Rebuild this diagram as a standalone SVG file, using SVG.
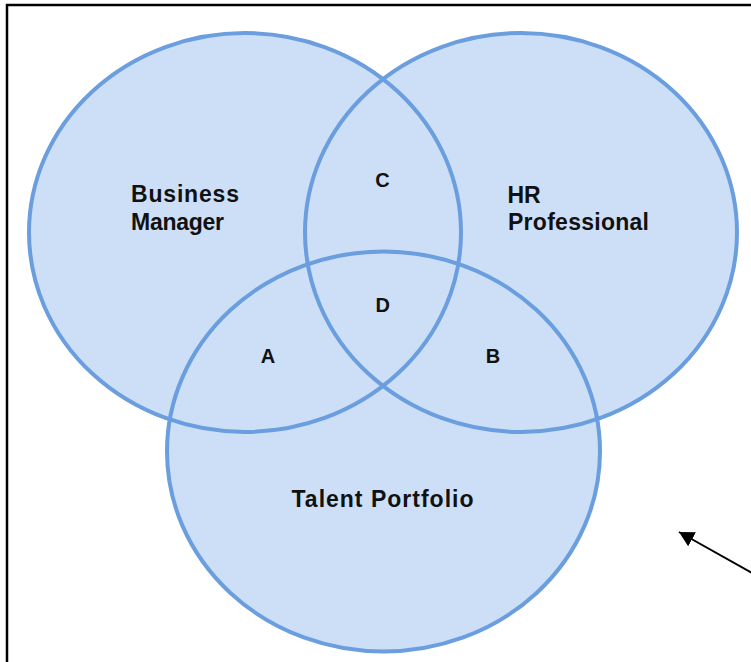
<svg xmlns="http://www.w3.org/2000/svg" width="751" height="662" viewBox="0 0 751 662">
  <style>
    .fill { fill: #cddff6; stroke: none; }
    .ring { fill: none; stroke: #6a9ede; stroke-width: 4; }
    .lbl { font-family: "Liberation Sans", Arial, sans-serif; font-weight: bold; font-size: 23px; fill: #111; }
    .reg { font-family: "Liberation Sans", Arial, sans-serif; font-weight: bold; font-size: 20px; fill: #111; text-anchor: middle; }
    .frame { fill: none; stroke: #000; stroke-width: 2.5; }
    .conn { fill: none; stroke: #000; stroke-width: 2; }
  </style>
  <defs>
    <marker id="ah" markerUnits="userSpaceOnUse" markerWidth="16" markerHeight="16" refX="15" refY="8" orient="auto" viewBox="0 0 16 16">
      <path d="M0,0 L15,8 L0,16 z" fill="#000"/>
    </marker>
  </defs>
  <rect x="0" y="0" width="751" height="662" fill="#fff"/>
  <path class="frame" d="M7,668 V5 H760"/>
  <g id="fills">
    <ellipse class="fill" cx="245" cy="232.5" rx="216" ry="199.5"/>
    <ellipse class="fill" cx="521" cy="232.5" rx="216" ry="199.5"/>
    <ellipse class="fill" cx="383.5" cy="451.5" rx="216.5" ry="200"/>
  </g>
  <g id="business-manager">
    <ellipse class="ring" cx="245" cy="232.5" rx="216" ry="199.5"/>
    <text class="lbl" x="131" y="202" textLength="108" lengthAdjust="spacing">Business</text>
    <text class="lbl" x="131" y="230" textLength="93" lengthAdjust="spacing">Manager</text>
  </g>
  <g id="hr-professional">
    <ellipse class="ring" cx="521" cy="232.5" rx="216" ry="199.5"/>
    <text class="lbl" x="507.5" y="203">HR</text>
    <text class="lbl" x="508" y="230" textLength="141" lengthAdjust="spacing">Professional</text>
  </g>
  <g id="talent-portfolio">
    <ellipse class="ring" cx="383.5" cy="451.5" rx="216.5" ry="200"/>
    <text class="lbl" x="291.5" y="507" textLength="182" lengthAdjust="spacing">Talent Portfolio</text>
  </g>
  <g id="regions">
    <text class="reg" x="382.5" y="187">C</text>
    <text class="reg" x="382.8" y="312">D</text>
    <text class="reg" x="268" y="363">A</text>
    <text class="reg" x="493" y="363">B</text>
  </g>
  <g id="connectors">
    <line class="conn" x1="770" y1="583" x2="679" y2="532" marker-end="url(#ah)"/>
  </g>
</svg>
